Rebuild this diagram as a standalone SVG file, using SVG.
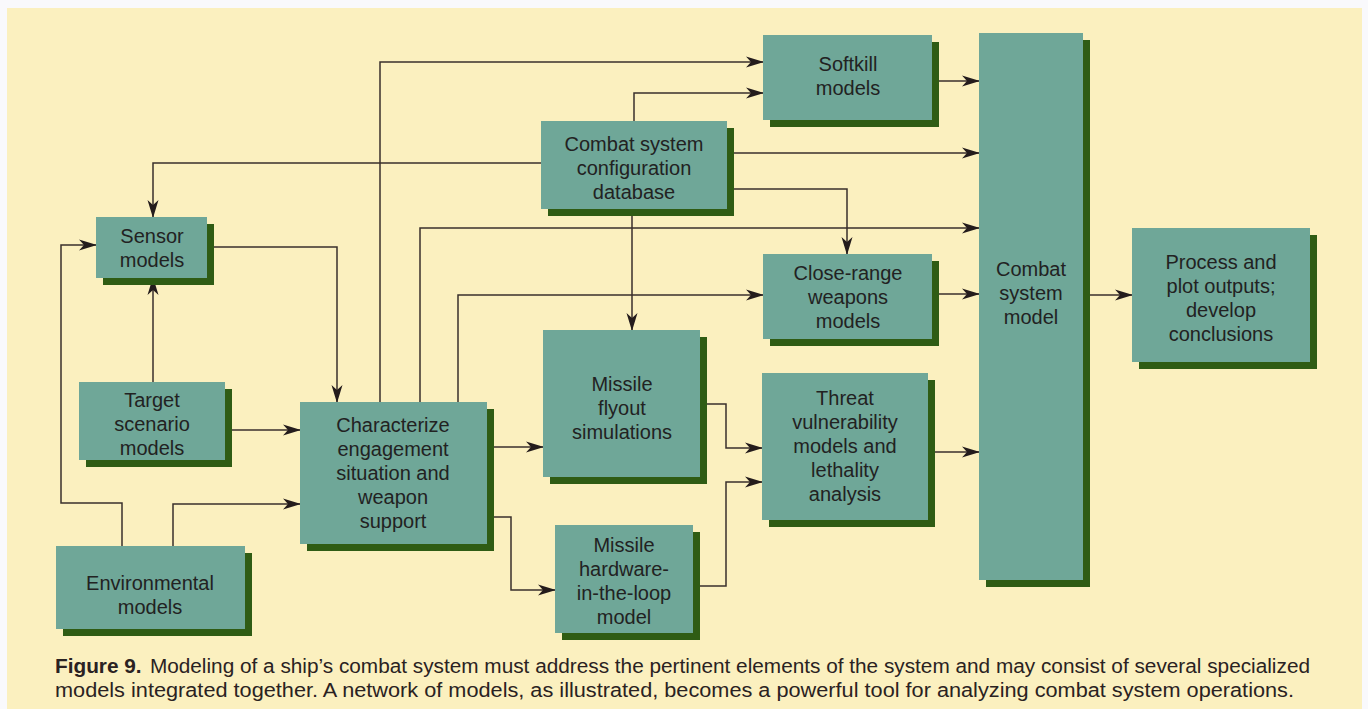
<svg xmlns="http://www.w3.org/2000/svg" width="1368" height="709" viewBox="0 0 1368 709">
<style>
.sh{fill:#2f5c14}
.bx{fill:#6fa798}
.t{font-family:"Liberation Sans",Arial,sans-serif;font-size:20px;fill:#222;text-anchor:middle}
.c{fill:none;stroke:#3a2f2c;stroke-width:1.5}
.cap{font-family:"Liberation Sans",Arial,sans-serif;font-size:20px;fill:#2a2222}
</style>
<defs>
<marker id="ah" markerUnits="userSpaceOnUse" markerWidth="18" markerHeight="12" refX="17" refY="6" orient="auto">
<path d="M0,0.5 L18,6 L0,11.5 L5,6 Z" fill="#241c1c"/>
</marker>
</defs>
<rect x="0" y="0" width="1368" height="709" fill="#f9f9fc"/>
<rect x="7" y="8" width="1355" height="701" fill="#fbf0bf"/>

<g id="connectors" class="c" marker-end="url(#ah)">
<polyline points="380,402 380,62 763,62"/>
<polyline points="634,121 634,93 763,93"/>
<polyline points="932,81 979,81"/>
<polyline points="727,153 979,153"/>
<polyline points="541,163 153,163 153,217"/>
<polyline points="420,402 420,228 979,228"/>
<polyline points="727,189 847,189 847,254"/>
<polyline points="632,209 632,330"/>
<polyline points="458,402 458,295 763,295"/>
<polyline points="932,294 979,294"/>
<polyline points="1083,295 1132,295"/>
<polyline points="207,247 337,247 337,402"/>
<polyline points="153,382 153,278"/>
<polyline points="225,430 300,430"/>
<polyline points="122,546 122,503 61,503 61,245 96,245"/>
<polyline points="173,546 173,504 300,504"/>
<polyline points="487,447 543,447"/>
<polyline points="487,517 511,517 511,590 555,590"/>
<polyline points="700,404 726,404 726,448 762,448"/>
<polyline points="693,586 726,586 726,482 762,482"/>
<polyline points="928,452 979,452"/>
</g>

<g id="softkill">
<rect class="sh" x="770" y="42" width="169" height="85"/>
<rect class="bx" x="763" y="35" width="169" height="85"/>
<text class="t" x="848" y="71">Softkill</text>
<text class="t" x="848" y="95">models</text>
</g>
<g id="database">
<rect class="sh" x="548" y="128" width="186" height="88"/>
<rect class="bx" x="541" y="121" width="186" height="88"/>
<text class="t" x="634" y="151">Combat system</text>
<text class="t" x="634" y="175">configuration</text>
<text class="t" x="634" y="199">database</text>
</g>
<g id="combat-model">
<rect class="sh" x="986" y="40" width="104" height="547"/>
<rect class="bx" x="979" y="33" width="104" height="547"/>
<text class="t" x="1031" y="276">Combat</text>
<text class="t" x="1031" y="300">system</text>
<text class="t" x="1031" y="324">model</text>
</g>
<g id="sensor">
<rect class="sh" x="103" y="224" width="111" height="61"/>
<rect class="bx" x="96" y="217" width="111" height="61"/>
<text class="t" x="152" y="243">Sensor</text>
<text class="t" x="152" y="267">models</text>
</g>
<g id="close-range">
<rect class="sh" x="770" y="261" width="169" height="85"/>
<rect class="bx" x="763" y="254" width="169" height="85"/>
<text class="t" x="848" y="280">Close-range</text>
<text class="t" x="848" y="304">weapons</text>
<text class="t" x="848" y="328">models</text>
</g>
<g id="process">
<rect class="sh" x="1139" y="235" width="178" height="134"/>
<rect class="bx" x="1132" y="228" width="178" height="134"/>
<text class="t" x="1221" y="269">Process and</text>
<text class="t" x="1221" y="293">plot outputs;</text>
<text class="t" x="1221" y="317">develop</text>
<text class="t" x="1221" y="341">conclusions</text>
</g>
<g id="target">
<rect class="sh" x="86" y="389" width="146" height="78"/>
<rect class="bx" x="79" y="382" width="146" height="78"/>
<text class="t" x="152" y="407">Target</text>
<text class="t" x="152" y="431">scenario</text>
<text class="t" x="152" y="455">models</text>
</g>
<g id="characterize">
<rect class="sh" x="307" y="409" width="187" height="142"/>
<rect class="bx" x="300" y="402" width="187" height="142"/>
<text class="t" x="393" y="432">Characterize</text>
<text class="t" x="393" y="456">engagement</text>
<text class="t" x="393" y="480">situation and</text>
<text class="t" x="393" y="504">weapon</text>
<text class="t" x="393" y="528">support</text>
</g>
<g id="flyout">
<rect class="sh" x="550" y="337" width="157" height="147"/>
<rect class="bx" x="543" y="330" width="157" height="147"/>
<text class="t" x="622" y="391">Missile</text>
<text class="t" x="622" y="415">flyout</text>
<text class="t" x="622" y="439">simulations</text>
</g>
<g id="threat">
<rect class="sh" x="769" y="380" width="166" height="147"/>
<rect class="bx" x="762" y="373" width="166" height="147"/>
<text class="t" x="845" y="405">Threat</text>
<text class="t" x="845" y="429">vulnerability</text>
<text class="t" x="845" y="453">models and</text>
<text class="t" x="845" y="477">lethality</text>
<text class="t" x="845" y="501">analysis</text>
</g>
<g id="hwil">
<rect class="sh" x="562" y="532" width="138" height="108"/>
<rect class="bx" x="555" y="525" width="138" height="108"/>
<text class="t" x="624" y="552">Missile</text>
<text class="t" x="624" y="576">hardware-</text>
<text class="t" x="624" y="600">in-the-loop</text>
<text class="t" x="624" y="624">model</text>
</g>
<g id="environmental">
<rect class="sh" x="63" y="553" width="189" height="83"/>
<rect class="bx" x="56" y="546" width="189" height="83"/>
<text class="t" x="150" y="590">Environmental</text>
<text class="t" x="150" y="614">models</text>
</g>

<g id="caption">
<text class="cap" x="55" y="673" textLength="1255" lengthAdjust="spacingAndGlyphs"><tspan font-weight="bold">Figure 9.</tspan><tspan dx="8">Modeling of a ship’s combat system must address the pertinent elements of the system and may consist of several specialized</tspan></text>
<text class="cap" x="55" y="697" textLength="1239" lengthAdjust="spacingAndGlyphs">models integrated together. A network of models, as illustrated, becomes a powerful tool for analyzing combat system operations.</text>
</g>
</svg>
